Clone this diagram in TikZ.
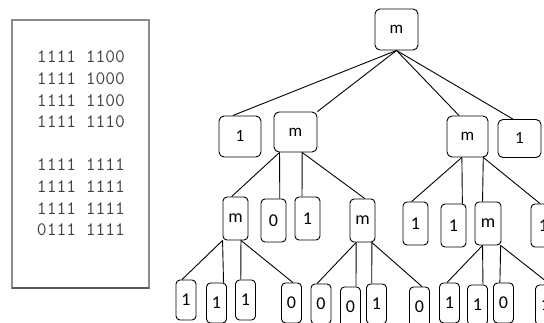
\documentclass[tikz,border=0pt]{standalone}
\usepackage{fontspec}
\setmainfont{Carlito}
\tikzset{bigbox/.style={draw,rounded corners=5pt,minimum width=42pt,minimum height=41pt,inner sep=0pt,font=\fontsize{17}{17}\selectfont},
         midbox/.style={draw,rounded corners=4pt,minimum width=25pt,minimum height=43pt,inner sep=0pt,font=\fontsize{18}{18}\selectfont},
         leafbox/.style={draw,rounded corners=4pt,minimum width=20pt,minimum height=40pt,inner sep=0pt,font=\fontsize{18}{18}\selectfont},
         bits/.style={font=\ttfamily\fontsize{19}{21.7}\selectfont,text=black!75,align=center,inner sep=0pt},
        }

\begin{document}
\begin{tikzpicture}[x=1pt,y=-1pt,line width=0.9pt]
        \clip(0,0)rectangle(544,323);
        % bit matrix panel
        \draw[black!45,line width=1.6pt](12,20)rectangle(149,288);
        \draw[black!65,line width=2pt](12,288)--(149,288);
        \node[bits](rowsA)at(81,89.5){1111 1100\\1111 1000\\1111 1100\\1111 1110};
        \node[bits](rowsB)at(81,197.5){1111 1111\\1111 1111\\1111 1111\\0111 1111};
        % root and first level
        \node[bigbox,minimum width=43pt](root)at(396.5,29.5){m};
        \node[bigbox](l1a)at(240,136.5){1};
        \node[bigbox,minimum width=43pt,minimum height=40pt](l1b)at(295.5,132){m};
        \node[bigbox,minimum width=41pt](l1c)at(467.5,136.5){m};
        \node[bigbox,minimum width=43pt,minimum height=38pt](l1d)at(519.5,138.5){1};
        \draw(root.south)--(l1a.109);
        \draw(root.south)--(l1b.north east);
        \draw(root.south)--(l1c.112);
        \draw(root.south)--(l1d.109);
        % second level
        \node[midbox](l2a)at(235.5,218.5){m};
        \node[midbox](l2b)at(273.5,220.5){0};
        \node[midbox](l2c)at(307.5,218.5){1};
        \node[midbox](l2d)at(362.5,220.5){m};
        \node[midbox](l2e)at(415.5,223.5){1};
        \node[midbox](l2f)at(453.5,225.5){1};
        \node[midbox,minimum width=26pt](l2g)at(488,223.5){m};
        \node[midbox](l2h)at(543.5,225.5){1};
        \draw(l1b.232)--(l2a.100);
        \draw(l1b.232)--(l2b.74);
        \draw(l1b.288)--(l2c.104);
        \draw(l1b.288)--(l2d.84);
        \draw(l1c.255)--(l2e.100);
        \draw(l1c.255)--(l2f.68);
        \draw(l1c.307)--(l2g.104);
        \draw(l1c.307)--(l2h.99);
        % leaves
        \node[leafbox](l3a)at(186,300){1};
        \node[leafbox](l3b)at(216.5,303){1};
        \node[leafbox](l3c)at(245.5,300){1};
        \node[leafbox](l3d)at(291.5,303){0};
        \node[leafbox](l3e)at(321,304){0};
        \node[leafbox](l3f)at(350.5,307){0};
        \node[leafbox](l3g)at(376.5,304){1};
        \node[leafbox](l3h)at(419.5,307){0};
        \node[leafbox](l3i)at(449.5,303){1};
        \node[leafbox](l3j)at(477.5,305){1};
        \node[leafbox](l3k)at(503.5,303){0};
        \node[leafbox](l3l)at(545.5,305){1};
        \draw(l2a.south west)--(l3a.101);
        \draw(l2a.south west)--(l3b.71);
        \draw(l2a.284)--(l3c.103);
        \draw(l2a.284)--(l3d.86);
        \draw(l2d.254)--(l3e.101);
        \draw(l2d.254)--(l3f.75);
        \draw(l2d.293)--(l3g.103);
        \draw(l2d.293)--(l3h.83);
        \draw(l2g.256)--(l3i.97);
        \draw(l2g.256)--(l3j.75);
        \draw(l2g.300)--(l3k.100);
        \draw(l2g.300)--(l3l.77);
    \end{tikzpicture}
\end{document}
